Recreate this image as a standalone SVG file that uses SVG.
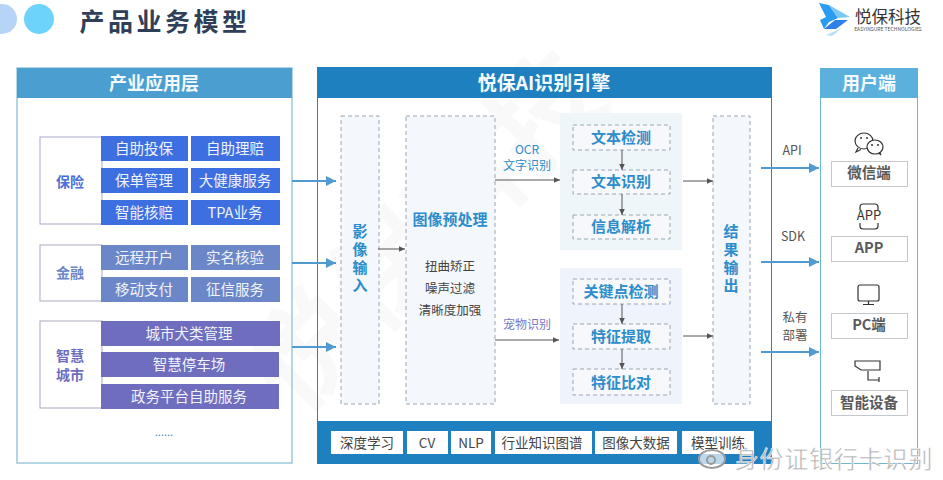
<svg xmlns="http://www.w3.org/2000/svg" width="943" height="480" viewBox="0 0 943 480">
<style>
text{font-family:"Noto Sans CJK SC","Liberation Sans",sans-serif;text-anchor:middle;dominant-baseline:central}
text:not(.wm){transform:translateY(-1.500px)}
.cell{font-size:14.500px;fill:#f0f3fb}
.hd{font-size:18px;font-weight:700;fill:#f4f9fc}
.grp{font-size:14px;font-weight:700}
.dash{fill:#f4f7fb;stroke:#9aa6b2;stroke-width:1;stroke-dasharray:4 3}
.dbox{fill:#f6f8fb;stroke:#9aa6b2;stroke-width:1;stroke-dasharray:4 3}
.blue{font-size:15px;font-weight:700;fill:#2d8ccb}
.vert{writing-mode:vertical-rl;letter-spacing:3px}
.tool{font-size:13.500px;fill:#444}
.lab{font-size:12.500px;fill:#555}
.dev{fill:#fff;stroke:#c4c8cc;stroke-width:1}
.devt{font-size:14.500px;font-weight:700;fill:#5a5a5a}
.ic{fill:none;stroke:#333;stroke-width:1.200}
.ab{stroke:#4f9bd0;stroke-width:2.200;fill:none;marker-end:url(#bh)}
.ag{stroke:#555;stroke-width:1;fill:none;marker-end:url(#gh)}
</style>
<defs>
<marker id="bh" markerUnits="userSpaceOnUse" markerWidth="11" markerHeight="11" refX="10" refY="5" orient="auto"><path d="M0 0L10 5L0 10z" fill="#4f9bd0"/></marker>
<marker id="gh" markerUnits="userSpaceOnUse" markerWidth="7" markerHeight="7" refX="6.500" refY="3" orient="auto"><path d="M0 0L6.500 3L0 6z" fill="#555"/></marker>
</defs>
<rect width="943" height="480" fill="#fff"/>

<g id="watermark" fill="#000" fill-opacity=".022">
<text class="wm" x="420" y="225" font-size="112" font-weight="700" transform="rotate(-45 420 225)">悦保科技</text>
<text class="wm" x="465" y="335" font-size="27" transform="rotate(-45 465 335)">EASYINSURE TECHNOLOGIES</text>
</g>

<g id="header">
<circle cx="2" cy="19" r="15" fill="#b6d4f6"/>
<circle cx="39" cy="19" r="15" fill="#6dd3fb"/>
<text x="165" y="21" font-size="25" font-weight="700" fill="#2f3f58" letter-spacing="3.500">产品业务模型</text>
</g>
<g id="logo">
<path d="M819 3L829 5L838 18L829 22L824 29L820 20L826 17Z" fill="#2a9df0"/>
<path d="M829 5L850 17L838 18Z" fill="#7cc8f5"/>
<path d="M824 29L835 20L848 20L836 29Z" fill="#2f7fe8"/>
<path d="M826 35L842 28L832 36Z" fill="#b5e0f8"/>
<text x="888" y="17" font-size="16.500" fill="#333">悦保科技</text>
<text x="888" y="30" font-size="5" fill="#555">EASYINSURE TECHNOLOGIES</text>
</g>

<g id="panel-left">
<rect x="17" y="68" width="275" height="395" fill="none" stroke="#9cc8de" stroke-width="1.500"/>
<rect x="17" y="68" width="275" height="30" fill="#4b9fd0"/>
<text class="hd" x="154" y="83">产业应用层</text>
<text x="164" y="432" font-size="11" fill="#3f8fc0">......</text>
</g>
<g id="group-insurance">
<rect x="40" y="137" width="62" height="87" fill="#fff" stroke="#a9a9cf"/>
<text class="grp" x="70" y="182" fill="#4a6fd8">保险</text>
<g fill="#3e6fe0"><rect x="101" y="136" width="87" height="25"/><rect x="191" y="136" width="89" height="25"/><rect x="101" y="168" width="87" height="25"/><rect x="191" y="168" width="89" height="25"/><rect x="101" y="200" width="87" height="25"/><rect x="191" y="200" width="89" height="25"/></g>
<text class="cell" x="144" y="149">自助投保</text><text class="cell" x="235" y="149">自助理赔</text>
<text class="cell" x="144" y="181">保单管理</text><text class="cell" x="235" y="181">大健康服务</text>
<text class="cell" x="144" y="213">智能核赔</text><text class="cell" x="235" y="213">TPA业务</text>
</g>
<g id="group-finance">
<rect x="40" y="245" width="62" height="56" fill="#fff" stroke="#a9a9c0"/>
<text class="grp" x="70" y="273" fill="#6c87c8">金融</text>
<g fill="#6c87c8"><rect x="101" y="245" width="87" height="25"/><rect x="191" y="245" width="89" height="25"/><rect x="101" y="277" width="87" height="25"/><rect x="191" y="277" width="89" height="25"/></g>
<text class="cell" x="144" y="258">远程开户</text><text class="cell" x="235" y="258">实名核验</text>
<text class="cell" x="144" y="290">移动支付</text><text class="cell" x="235" y="290">征信服务</text>
</g>
<g id="group-city">
<rect x="40" y="321" width="62" height="87" fill="#fff" stroke="#a9a9c0"/>
<text class="grp" x="70" y="356" fill="#6f6dbd">智慧<tspan x="70" dy="19">城市</tspan></text>
<g fill="#6f6dbd"><rect x="101" y="321" width="179" height="25"/><rect x="101" y="352" width="178" height="25"/><rect x="101" y="384" width="178" height="25"/></g>
<text class="cell" x="189" y="334">城市犬类管理</text><text class="cell" x="189" y="365">智慧停车场</text><text class="cell" x="189" y="397">政务平台自助服务</text>
</g>

<g id="panel-engine">
<rect x="317.500" y="67.500" width="454" height="396" fill="none" stroke="#2a83bd"/>
<rect x="317" y="67" width="455" height="31" fill="#1f80bf"/>
<text x="544" y="83" font-size="19" font-weight="700" fill="#f4f9fc">悦保AI识别引擎</text>
<rect x="317" y="421" width="455" height="43" fill="#1f80bf"/>
</g>
<g id="engine-tools">
<g fill="#fff"><rect x="331" y="431" width="72" height="23"/><rect x="407" y="431" width="41" height="23"/><rect x="451" y="431" width="40" height="23"/><rect x="495" y="431" width="97" height="23"/><rect x="595" y="431" width="82" height="23"/><rect x="682" y="431" width="72" height="23"/></g>
<text class="tool" x="367" y="443">深度学习</text><text class="tool" x="427" y="443">CV</text><text class="tool" x="471" y="443">NLP</text><text class="tool" x="542" y="443">行业知识图谱</text><text class="tool" x="636" y="443">图像大数据</text><text class="tool" x="718" y="443">模型训练</text>
</g>
<g id="node-input">
<rect class="dash" x="341" y="116" width="38" height="288"/>
<text class="blue vert" x="360" y="261">影像输入</text>
</g>
<g id="node-preprocess">
<rect class="dash" x="406" y="116" width="89" height="288"/>
<text x="450" y="220" font-size="15" font-weight="700" fill="#2d8ccb">图像预处理</text>
<text x="450" y="267" font-size="12.500" fill="#444">扭曲矫正</text><text x="450" y="289" font-size="12.500" fill="#444">噪声过滤</text><text x="450" y="311" font-size="12.500" fill="#444">清晰度加强</text>
</g>
<g id="node-ocr">
<rect x="560" y="113" width="122" height="137" fill="#eef6fa"/>
<rect class="dbox" x="573" y="125" width="97" height="25"/><rect class="dbox" x="573" y="170" width="97" height="24"/><rect class="dbox" x="573" y="215" width="97" height="24"/>
<text class="blue" x="621" y="138">文本检测</text><text class="blue" x="621" y="182">文本识别</text><text class="blue" x="621" y="227">信息解析</text>
</g>
<g id="node-pet">
<rect x="560" y="268" width="122" height="136" fill="#eff3fc"/>
<rect class="dbox" x="573" y="279" width="97" height="25"/><rect class="dbox" x="573" y="324" width="97" height="25"/><rect class="dbox" x="573" y="369" width="97" height="26"/>
<text class="blue" x="621" y="292">关键点检测</text><text class="blue" x="621" y="337">特征提取</text><text class="blue" x="621" y="383">特征比对</text>
</g>
<g id="node-output">
<rect class="dash" x="713" y="116" width="37" height="288"/>
<text class="blue vert" x="731" y="261">结果输出</text>
</g>

<g id="panel-user">
<rect x="820.500" y="68.500" width="97" height="395" fill="none" stroke="#6fb6cf"/>
<rect x="820" y="68" width="98" height="30" fill="#5cb1dc"/>
<text class="hd" x="869" y="83">用户端</text>
</g>
<g id="node-wechat">
<path class="ic" d="M858 148L856 152L861 149.500"/>
<ellipse class="ic" cx="864" cy="141" rx="9" ry="8"/><path class="ic" d="M878 152L881 155L879 151"/>
<ellipse class="ic" cx="875" cy="147" rx="8" ry="7" fill="#fff" style="fill:#fff"/>
<g fill="#333"><circle cx="861" cy="138" r="1"/><circle cx="867" cy="138" r="1"/><circle cx="872" cy="145" r="1"/><circle cx="878" cy="145" r="1"/></g>
<rect class="dev" x="831.500" y="161.500" width="76" height="25"/><text class="devt" x="869" y="173">微信端</text>
</g>
<g id="node-app">
<rect class="ic" x="860" y="204" width="18" height="25" rx="3"/><rect x="856" y="210" width="26" height="13" fill="#fff"/>
<text x="869" y="216" font-size="13" fill="#333">APP</text>
<rect class="dev" x="831.500" y="236.500" width="76" height="25"/><text class="devt" x="869" y="248">APP</text>
</g>
<g id="node-pc">
<rect class="ic" x="858" y="285" width="21" height="16" rx="2"/><path class="ic" d="M868.500 301V304M863 304.500H874"/>
<rect class="dev" x="831.500" y="313.500" width="76" height="25"/><text class="devt" x="869" y="325">PC端</text>
</g>
<g id="node-device">
<path class="ic" d="M855 361H880V370H861L855 366ZM868 371V380H879M879 377V382"/>
<rect class="dev" x="831.500" y="390.500" width="76" height="25"/><text class="devt" x="869" y="403">智能设备</text>
</g>

<g id="connectors">
<path class="ab" d="M292 181H336"/><path class="ab" d="M292 263H336"/><path class="ab" d="M292 347H336"/>
<path class="ag" d="M378 249H405"/>
<path class="ag" d="M495 180H560"/><path class="ag" d="M495 340H559"/>
<path class="ag" d="M622 150V170"/><path class="ag" d="M622 194V215"/><path class="ag" d="M622 304V324"/><path class="ag" d="M622 349V369"/>
<path class="ag" d="M683 181H713"/><path class="ag" d="M683 336H713"/>
<path class="ab" d="M761 168H819"/><path class="ab" d="M761 262H819"/><path class="ab" d="M761 352H819"/>
</g>
<g id="connector-labels">
<text x="527" y="150" font-size="12" fill="#2d8ccb">OCR<tspan x="527" dy="15">文字识别</tspan></text>
<text x="527" y="325" font-size="12" fill="#7a78c4">宠物识别</text>
<text class="lab" x="792" y="151">API</text><text class="lab" x="793" y="237">SDK</text><text class="lab" x="795" y="318">私有<tspan x="795" dy="17">部署</tspan></text>
</g>
<g id="weibo-mark">
<ellipse cx="712" cy="459" rx="13" ry="9" fill="#fff" fill-opacity=".7" stroke="#9a9a9a" stroke-width="2"/><circle cx="711" cy="460" r="4" fill="none" stroke="#9a9a9a" stroke-width="2"/>
<text x="834" y="459" font-size="24" fill="#b0b0b0" stroke="#fff" stroke-width=".5" letter-spacing=".8">身份证银行卡识别</text>
</g>
</svg>
